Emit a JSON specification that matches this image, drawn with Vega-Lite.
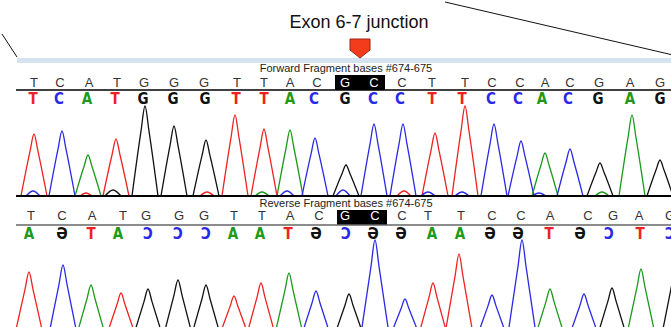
{
  "$schema": "https://vega.github.io/schema/vega-lite/v6.json",
  "padding": 0,
  "spacing": 0,
  "bounds": "flush",
  "background": "white",
  "config": {"view": {"stroke": null}},
  "datasets": {
    "bases": [
      {"q":"T","fx":32,"fc":31,"rx":29,"rc":27,"rg":"A","rb":"A","hl":false},
      {"q":"C","fx":58,"fc":57,"rx":60,"rc":60,"rg":"Ә","rb":"G","hl":false},
      {"q":"A","fx":87,"fc":85,"rx":90,"rc":89,"rg":"T","rb":"T","hl":false},
      {"q":"T","fx":115,"fc":113,"rx":121,"rc":116,"rg":"A","rb":"A","hl":false},
      {"q":"G","fx":142,"fc":141,"rx":144,"rc":146,"rg":"Ɔ","rb":"C","hl":false},
      {"q":"G","fx":172,"fc":171,"rx":177,"rc":176,"rg":"Ɔ","rb":"C","hl":false},
      {"q":"G","fx":202,"fc":203,"rx":202,"rc":204,"rg":"Ɔ","rb":"C","hl":false},
      {"q":"T","fx":235,"fc":234,"rx":232,"rc":231,"rg":"A","rb":"A","hl":false},
      {"q":"T","fx":262,"fc":262,"rx":260,"rc":258,"rg":"A","rb":"A","hl":false},
      {"q":"A","fx":288,"fc":288,"rx":288,"rc":286,"rg":"T","rb":"T","hl":false},
      {"q":"C","fx":315,"fc":312,"rx":317,"rc":314,"rg":"Ә","rb":"G","hl":false},
      {"q":"G","fx":343,"fc":343,"rx":343,"rc":344,"rg":"Ɔ","rb":"C","hl":true},
      {"q":"C","fx":372,"fc":371,"rx":373,"rc":371,"rg":"Ә","rb":"G","hl":true},
      {"q":"C","fx":400,"fc":398,"rx":400,"rc":399,"rg":"Ә","rb":"G","hl":false},
      {"q":"T","fx":430,"fc":430,"rx":426,"rc":430,"rg":"A","rb":"A","hl":false},
      {"q":"T","fx":463,"fc":460,"rx":459,"rc":458,"rg":"A","rb":"A","hl":false},
      {"q":"C","fx":490,"fc":489,"rx":490,"rc":488,"rg":"Ә","rb":"G","hl":false},
      {"q":"C","fx":518,"fc":516,"rx":519,"rc":516,"rg":"Ә","rb":"G","hl":false},
      {"q":"A","fx":543,"fc":540,"rx":548,"rc":547,"rg":"T","rb":"T","hl":false},
      {"q":"C","fx":568,"fc":566,"rx":586,"rc":578,"rg":"Ә","rb":"G","hl":false},
      {"q":"G","fx":597,"fc":596,"rx":611,"rc":607,"rg":"Ɔ","rb":"C","hl":false},
      {"q":"A","fx":628,"fc":628,"rx":637,"rc":638,"rg":"T","rb":"T","hl":false},
      {"q":"G","fx":658,"fc":658,"rx":668,"rc":668,"rg":"Ɔ","rb":"C","hl":false}
    ],
    "peaks": [
      {"s":"F","p":"F1","b":"T","x":19,"y":0},{"s":"F","p":"F1","b":"T","x":28,"y":44.6},{"s":"F","p":"F1","b":"T","x":32,"y":62},{"s":"F","p":"F1","b":"T","x":36,"y":44.6},{"s":"F","p":"F1","b":"T","x":45,"y":0},
      {"s":"F","p":"F2","b":"C","x":47,"y":0},{"s":"F","p":"F2","b":"C","x":56,"y":46.8},{"s":"F","p":"F2","b":"C","x":60,"y":65},{"s":"F","p":"F2","b":"C","x":64,"y":46.8},{"s":"F","p":"F2","b":"C","x":73,"y":0},
      {"s":"F","p":"F3","b":"A","x":73,"y":0},{"s":"F","p":"F3","b":"A","x":82,"y":29.5},{"s":"F","p":"F3","b":"A","x":86,"y":41},{"s":"F","p":"F3","b":"A","x":90,"y":29.5},{"s":"F","p":"F3","b":"A","x":99,"y":0},
      {"s":"F","p":"F4","b":"T","x":101,"y":0},{"s":"F","p":"F4","b":"T","x":110,"y":41},{"s":"F","p":"F4","b":"T","x":114,"y":57},{"s":"F","p":"F4","b":"T","x":118,"y":41},{"s":"F","p":"F4","b":"T","x":127,"y":0},
      {"s":"F","p":"F5","b":"G","x":130,"y":0},{"s":"F","p":"F5","b":"G","x":139,"y":64.8},{"s":"F","p":"F5","b":"G","x":143,"y":90},{"s":"F","p":"F5","b":"G","x":147,"y":64.8},{"s":"F","p":"F5","b":"G","x":156,"y":0},
      {"s":"F","p":"F6","b":"G","x":159,"y":0},{"s":"F","p":"F6","b":"G","x":168,"y":50.4},{"s":"F","p":"F6","b":"G","x":172,"y":70},{"s":"F","p":"F6","b":"G","x":176,"y":50.4},{"s":"F","p":"F6","b":"G","x":185,"y":0},
      {"s":"F","p":"F7","b":"G","x":191,"y":0},{"s":"F","p":"F7","b":"G","x":200,"y":40.3},{"s":"F","p":"F7","b":"G","x":204,"y":56},{"s":"F","p":"F7","b":"G","x":208,"y":40.3},{"s":"F","p":"F7","b":"G","x":217,"y":0},
      {"s":"F","p":"F8","b":"T","x":220,"y":0},{"s":"F","p":"F8","b":"T","x":229,"y":58.3},{"s":"F","p":"F8","b":"T","x":233,"y":81},{"s":"F","p":"F8","b":"T","x":237,"y":58.3},{"s":"F","p":"F8","b":"T","x":246,"y":0},
      {"s":"F","p":"F9","b":"T","x":249,"y":0},{"s":"F","p":"F9","b":"T","x":258,"y":48.2},{"s":"F","p":"F9","b":"T","x":262,"y":67},{"s":"F","p":"F9","b":"T","x":266,"y":48.2},{"s":"F","p":"F9","b":"T","x":275,"y":0},
      {"s":"F","p":"F10","b":"A","x":275,"y":0},{"s":"F","p":"F10","b":"A","x":284,"y":47.5},{"s":"F","p":"F10","b":"A","x":288,"y":66},{"s":"F","p":"F10","b":"A","x":292,"y":47.5},{"s":"F","p":"F10","b":"A","x":301,"y":0},
      {"s":"F","p":"F11","b":"C","x":300,"y":0},{"s":"F","p":"F11","b":"C","x":309,"y":41.8},{"s":"F","p":"F11","b":"C","x":313,"y":58},{"s":"F","p":"F11","b":"C","x":317,"y":41.8},{"s":"F","p":"F11","b":"C","x":326,"y":0},
      {"s":"F","p":"F12","b":"G","x":331,"y":0},{"s":"F","p":"F12","b":"G","x":340,"y":22.3},{"s":"F","p":"F12","b":"G","x":344,"y":31},{"s":"F","p":"F12","b":"G","x":348,"y":22.3},{"s":"F","p":"F12","b":"G","x":357,"y":0},
      {"s":"F","p":"F13","b":"C","x":359,"y":0},{"s":"F","p":"F13","b":"C","x":368,"y":51.8},{"s":"F","p":"F13","b":"C","x":372,"y":72},{"s":"F","p":"F13","b":"C","x":376,"y":51.8},{"s":"F","p":"F13","b":"C","x":385,"y":0},
      {"s":"F","p":"F14","b":"C","x":388,"y":0},{"s":"F","p":"F14","b":"C","x":397,"y":51.8},{"s":"F","p":"F14","b":"C","x":401,"y":72},{"s":"F","p":"F14","b":"C","x":405,"y":51.8},{"s":"F","p":"F14","b":"C","x":414,"y":0},
      {"s":"F","p":"F15","b":"T","x":420,"y":0},{"s":"F","p":"F15","b":"T","x":429,"y":45.4},{"s":"F","p":"F15","b":"T","x":433,"y":63},{"s":"F","p":"F15","b":"T","x":437,"y":45.4},{"s":"F","p":"F15","b":"T","x":446,"y":0},
      {"s":"F","p":"F16","b":"T","x":450,"y":0},{"s":"F","p":"F16","b":"T","x":459,"y":64.8},{"s":"F","p":"F16","b":"T","x":463,"y":90},{"s":"F","p":"F16","b":"T","x":467,"y":64.8},{"s":"F","p":"F16","b":"T","x":476,"y":0},
      {"s":"F","p":"F17","b":"C","x":479,"y":0},{"s":"F","p":"F17","b":"C","x":488,"y":51.8},{"s":"F","p":"F17","b":"C","x":492,"y":72},{"s":"F","p":"F17","b":"C","x":496,"y":51.8},{"s":"F","p":"F17","b":"C","x":505,"y":0},
      {"s":"F","p":"F18","b":"C","x":506,"y":0},{"s":"F","p":"F18","b":"C","x":515,"y":39.6},{"s":"F","p":"F18","b":"C","x":519,"y":55},{"s":"F","p":"F18","b":"C","x":523,"y":39.6},{"s":"F","p":"F18","b":"C","x":532,"y":0},
      {"s":"F","p":"F19","b":"A","x":530,"y":0},{"s":"F","p":"F19","b":"A","x":539,"y":31},{"s":"F","p":"F19","b":"A","x":543,"y":43},{"s":"F","p":"F19","b":"A","x":547,"y":31},{"s":"F","p":"F19","b":"A","x":556,"y":0},
      {"s":"F","p":"F20","b":"C","x":555,"y":0},{"s":"F","p":"F20","b":"C","x":564,"y":33.8},{"s":"F","p":"F20","b":"C","x":568,"y":47},{"s":"F","p":"F20","b":"C","x":572,"y":33.8},{"s":"F","p":"F20","b":"C","x":581,"y":0},
      {"s":"F","p":"F21","b":"G","x":585,"y":0},{"s":"F","p":"F21","b":"G","x":594,"y":23.8},{"s":"F","p":"F21","b":"G","x":598,"y":33},{"s":"F","p":"F21","b":"G","x":602,"y":23.8},{"s":"F","p":"F21","b":"G","x":611,"y":0},
      {"s":"F","p":"F22","b":"A","x":617,"y":0},{"s":"F","p":"F22","b":"A","x":626,"y":58.3},{"s":"F","p":"F22","b":"A","x":630,"y":81},{"s":"F","p":"F22","b":"A","x":634,"y":58.3},{"s":"F","p":"F22","b":"A","x":643,"y":0},
      {"s":"F","p":"F23","b":"G","x":645,"y":0},{"s":"F","p":"F23","b":"G","x":654,"y":25.9},{"s":"F","p":"F23","b":"G","x":658,"y":36},{"s":"F","p":"F23","b":"G","x":662,"y":25.9},{"s":"F","p":"F23","b":"G","x":671,"y":0},
      {"s":"F","p":"b1","b":"C","x":24,"y":0},{"s":"F","p":"b1","b":"C","x":31,"y":5},{"s":"F","p":"b1","b":"C","x":38,"y":0},
      {"s":"F","p":"b2","b":"G","x":103,"y":0},{"s":"F","p":"b2","b":"G","x":111,"y":6},{"s":"F","p":"b2","b":"G","x":119,"y":0},
      {"s":"F","p":"b3","b":"T","x":198,"y":0},{"s":"F","p":"b3","b":"T","x":205,"y":4},{"s":"F","p":"b3","b":"T","x":212,"y":0},
      {"s":"F","p":"b4","b":"A","x":253,"y":0},{"s":"F","p":"b4","b":"A","x":260,"y":4},{"s":"F","p":"b4","b":"A","x":267,"y":0},
      {"s":"F","p":"b5","b":"C","x":278,"y":0},{"s":"F","p":"b5","b":"C","x":285,"y":5},{"s":"F","p":"b5","b":"C","x":292,"y":0},
      {"s":"F","p":"b6","b":"C","x":334,"y":0},{"s":"F","p":"b6","b":"C","x":341,"y":6},{"s":"F","p":"b6","b":"C","x":348,"y":0},
      {"s":"F","p":"b7","b":"T","x":395,"y":0},{"s":"F","p":"b7","b":"T","x":402,"y":5},{"s":"F","p":"b7","b":"T","x":409,"y":0},
      {"s":"F","p":"b8","b":"C","x":419,"y":0},{"s":"F","p":"b8","b":"C","x":426,"y":4},{"s":"F","p":"b8","b":"C","x":433,"y":0},
      {"s":"F","p":"b9","b":"C","x":453,"y":0},{"s":"F","p":"b9","b":"C","x":460,"y":4},{"s":"F","p":"b9","b":"C","x":467,"y":0},
      {"s":"F","p":"b10","b":"C","x":530,"y":0},{"s":"F","p":"b10","b":"C","x":537,"y":3},{"s":"F","p":"b10","b":"C","x":544,"y":0},
      {"s":"F","p":"b11","b":"A","x":593,"y":0},{"s":"F","p":"b11","b":"A","x":600,"y":4},{"s":"F","p":"b11","b":"A","x":607,"y":0},
      {"s":"F","p":"b12","b":"T","x":78,"y":0},{"s":"F","p":"b12","b":"T","x":84,"y":3},{"s":"F","p":"b12","b":"T","x":90,"y":0},
      {"s":"R","p":"R1","b":"T","x":13,"y":0},{"s":"R","p":"R1","b":"T","x":23,"y":44.6},{"s":"R","p":"R1","b":"T","x":27,"y":62},{"s":"R","p":"R1","b":"T","x":31,"y":44.6},{"s":"R","p":"R1","b":"T","x":41,"y":0},
      {"s":"R","p":"R2","b":"C","x":47,"y":0},{"s":"R","p":"R2","b":"C","x":57,"y":49.7},{"s":"R","p":"R2","b":"C","x":61,"y":69},{"s":"R","p":"R2","b":"C","x":65,"y":49.7},{"s":"R","p":"R2","b":"C","x":75,"y":0},
      {"s":"R","p":"R3","b":"A","x":75,"y":0},{"s":"R","p":"R3","b":"A","x":85,"y":35.3},{"s":"R","p":"R3","b":"A","x":89,"y":49},{"s":"R","p":"R3","b":"A","x":93,"y":35.3},{"s":"R","p":"R3","b":"A","x":103,"y":0},
      {"s":"R","p":"R4","b":"T","x":105,"y":0},{"s":"R","p":"R4","b":"T","x":115,"y":29.5},{"s":"R","p":"R4","b":"T","x":119,"y":41},{"s":"R","p":"R4","b":"T","x":123,"y":29.5},{"s":"R","p":"R4","b":"T","x":133,"y":0},
      {"s":"R","p":"R5","b":"G","x":132,"y":0},{"s":"R","p":"R5","b":"G","x":142,"y":32.4},{"s":"R","p":"R5","b":"G","x":146,"y":45},{"s":"R","p":"R5","b":"G","x":150,"y":32.4},{"s":"R","p":"R5","b":"G","x":160,"y":0},
      {"s":"R","p":"R6","b":"G","x":162,"y":0},{"s":"R","p":"R6","b":"G","x":172,"y":38.9},{"s":"R","p":"R6","b":"G","x":176,"y":54},{"s":"R","p":"R6","b":"G","x":180,"y":38.9},{"s":"R","p":"R6","b":"G","x":190,"y":0},
      {"s":"R","p":"R7","b":"G","x":190,"y":0},{"s":"R","p":"R7","b":"G","x":200,"y":35.3},{"s":"R","p":"R7","b":"G","x":204,"y":49},{"s":"R","p":"R7","b":"G","x":208,"y":35.3},{"s":"R","p":"R7","b":"G","x":218,"y":0},
      {"s":"R","p":"R8","b":"T","x":218,"y":0},{"s":"R","p":"R8","b":"T","x":228,"y":27.4},{"s":"R","p":"R8","b":"T","x":232,"y":38},{"s":"R","p":"R8","b":"T","x":236,"y":27.4},{"s":"R","p":"R8","b":"T","x":246,"y":0},
      {"s":"R","p":"R9","b":"T","x":245,"y":0},{"s":"R","p":"R9","b":"T","x":255,"y":36.7},{"s":"R","p":"R9","b":"T","x":259,"y":51},{"s":"R","p":"R9","b":"T","x":263,"y":36.7},{"s":"R","p":"R9","b":"T","x":273,"y":0},
      {"s":"R","p":"R10","b":"A","x":273,"y":0},{"s":"R","p":"R10","b":"A","x":283,"y":43.9},{"s":"R","p":"R10","b":"A","x":287,"y":61},{"s":"R","p":"R10","b":"A","x":291,"y":43.9},{"s":"R","p":"R10","b":"A","x":301,"y":0},
      {"s":"R","p":"R11","b":"C","x":300,"y":0},{"s":"R","p":"R11","b":"C","x":310,"y":31},{"s":"R","p":"R11","b":"C","x":314,"y":43},{"s":"R","p":"R11","b":"C","x":318,"y":31},{"s":"R","p":"R11","b":"C","x":328,"y":0},
      {"s":"R","p":"R12","b":"G","x":333,"y":0},{"s":"R","p":"R12","b":"G","x":343,"y":28.8},{"s":"R","p":"R12","b":"G","x":347,"y":40},{"s":"R","p":"R12","b":"G","x":351,"y":28.8},{"s":"R","p":"R12","b":"G","x":361,"y":0},
      {"s":"R","p":"R13","b":"C","x":359,"y":0},{"s":"R","p":"R13","b":"C","x":369,"y":67.7},{"s":"R","p":"R13","b":"C","x":373,"y":94},{"s":"R","p":"R13","b":"C","x":377,"y":67.7},{"s":"R","p":"R13","b":"C","x":387,"y":0},
      {"s":"R","p":"R14","b":"C","x":389,"y":0},{"s":"R","p":"R14","b":"C","x":399,"y":25.2},{"s":"R","p":"R14","b":"C","x":403,"y":35},{"s":"R","p":"R14","b":"C","x":407,"y":25.2},{"s":"R","p":"R14","b":"C","x":417,"y":0},
      {"s":"R","p":"R15","b":"T","x":417,"y":0},{"s":"R","p":"R15","b":"T","x":427,"y":36.7},{"s":"R","p":"R15","b":"T","x":431,"y":51},{"s":"R","p":"R15","b":"T","x":435,"y":36.7},{"s":"R","p":"R15","b":"T","x":445,"y":0},
      {"s":"R","p":"R16","b":"T","x":443,"y":0},{"s":"R","p":"R16","b":"T","x":453,"y":57.6},{"s":"R","p":"R16","b":"T","x":457,"y":80},{"s":"R","p":"R16","b":"T","x":461,"y":57.6},{"s":"R","p":"R16","b":"T","x":471,"y":0},
      {"s":"R","p":"R17","b":"C","x":476,"y":0},{"s":"R","p":"R17","b":"C","x":486,"y":28.1},{"s":"R","p":"R17","b":"C","x":490,"y":39},{"s":"R","p":"R17","b":"C","x":494,"y":28.1},{"s":"R","p":"R17","b":"C","x":504,"y":0},
      {"s":"R","p":"R18","b":"C","x":506,"y":0},{"s":"R","p":"R18","b":"C","x":516,"y":67.7},{"s":"R","p":"R18","b":"C","x":520,"y":94},{"s":"R","p":"R18","b":"C","x":524,"y":67.7},{"s":"R","p":"R18","b":"C","x":534,"y":0},
      {"s":"R","p":"R19","b":"A","x":534,"y":0},{"s":"R","p":"R19","b":"A","x":544,"y":32.4},{"s":"R","p":"R19","b":"A","x":548,"y":45},{"s":"R","p":"R19","b":"A","x":552,"y":32.4},{"s":"R","p":"R19","b":"A","x":562,"y":0},
      {"s":"R","p":"R20","b":"C","x":568,"y":0},{"s":"R","p":"R20","b":"C","x":578,"y":28.8},{"s":"R","p":"R20","b":"C","x":582,"y":40},{"s":"R","p":"R20","b":"C","x":586,"y":28.8},{"s":"R","p":"R20","b":"C","x":596,"y":0},
      {"s":"R","p":"R21","b":"G","x":596,"y":0},{"s":"R","p":"R21","b":"G","x":606,"y":33.1},{"s":"R","p":"R21","b":"G","x":610,"y":46},{"s":"R","p":"R21","b":"G","x":614,"y":33.1},{"s":"R","p":"R21","b":"G","x":624,"y":0},
      {"s":"R","p":"R22","b":"A","x":625,"y":0},{"s":"R","p":"R22","b":"A","x":635,"y":46.8},{"s":"R","p":"R22","b":"A","x":639,"y":65},{"s":"R","p":"R22","b":"A","x":643,"y":46.8},{"s":"R","p":"R22","b":"A","x":653,"y":0},
      {"s":"R","p":"R23","b":"G","x":660,"y":0},{"s":"R","p":"R23","b":"G","x":670,"y":50.4},{"s":"R","p":"R23","b":"G","x":674,"y":70},{"s":"R","p":"R23","b":"G","x":678,"y":50.4},{"s":"R","p":"R23","b":"G","x":688,"y":0}
    ]
  },
  "vconcat": [
    {
      "width": 671,
      "height": 62,
      "layer": [
        {
          "data": {"values": [
            {"g":"L","x":0,"y":30},{"g":"L","x":15,"y":7},
            {"g":"R","x":443,"y":62},{"g":"R","x":671,"y":9}
          ]},
          "mark": {"type": "line", "color": "#111", "strokeWidth": 1},
          "encoding": {
            "x": {"field": "x", "type": "quantitative", "scale": {"domain": [0, 671], "nice": false, "zero": false}, "axis": null},
            "y": {"field": "y", "type": "quantitative", "scale": {"domain": [0, 62], "nice": false, "zero": false}, "axis": null},
            "detail": {"field": "g"}
          }
        },
        {
          "data": {"values": [{"x": 15, "x2": 671, "y": 1, "y2": 6}]},
          "mark": {"type": "rect", "color": "#d5e2ef"},
          "encoding": {
            "x": {"field": "x", "type": "quantitative"},
            "x2": {"field": "x2"},
            "y": {"field": "y", "type": "quantitative"},
            "y2": {"field": "y2"}
          }
        },
        {
          "data": {"values": [{"t": "Exon 6-7 junction"}]},
          "mark": {"type": "text", "font": "Liberation Sans", "fontSize": 18, "color": "#111", "align": "center", "baseline": "middle"},
          "encoding": {
            "x": {"datum": 357, "type": "quantitative"},
            "y": {"datum": 41, "type": "quantitative"},
            "text": {"field": "t"}
          }
        },
        {
          "data": {"values": [{"m": "junction"}]},
          "mark": {"type": "point", "shape": "M-1,-0.95L1,-0.95L1,0.15L0,0.95L-1,0.15Z", "size": 400, "filled": true, "fill": "#f23c1c", "stroke": "#9a2410", "strokeWidth": 1, "opacity": 1},
          "encoding": {
            "x": {"datum": 358, "type": "quantitative"},
            "y": {"datum": 15.5, "type": "quantitative"}
          }
        }
      ]
    },
    {
      "width": 671,
      "height": 136,
      "layer": [
        {
          "data": {"values": [{"t": "Forward Fragment bases #674-675"}]},
          "mark": {"type": "text", "font": "Liberation Sans", "fontSize": 11, "color": "#222", "align": "center", "baseline": "middle"},
          "encoding": {
            "x": {"datum": 344, "type": "quantitative", "scale": {"domain": [0, 671], "nice": false, "zero": false}, "axis": null},
            "y": {"datum": 127, "type": "quantitative", "scale": {"domain": [-4, 132], "nice": false, "zero": false}, "axis": null},
            "text": {"field": "t"}
          }
        },
        {
          "data": {"values": [{"x": 333, "x2": 383, "y": 106, "y2": 121}]},
          "mark": {"type": "rect", "color": "#000"},
          "encoding": {
            "x": {"field": "x", "type": "quantitative"},
            "x2": {"field": "x2"},
            "y": {"field": "y", "type": "quantitative"},
            "y2": {"field": "y2"}
          }
        },
        {
          "data": {"name": "bases"},
          "mark": {"type": "text", "font": "Liberation Sans", "fontSize": 13, "align": "center", "baseline": "middle"},
          "encoding": {
            "x": {"field": "fx", "type": "quantitative"},
            "y": {"datum": 113.5, "type": "quantitative"},
            "text": {"field": "q"},
            "color": {"condition": {"test": "datum.hl", "value": "#ffffff"}, "value": "#333333"}
          }
        },
        {
          "data": {"values": [{"x": 14, "y": 106}, {"x": 671, "y": 106}]},
          "mark": {"type": "line", "color": "#000", "strokeWidth": 1.6},
          "encoding": {
            "x": {"field": "x", "type": "quantitative"},
            "y": {"field": "y", "type": "quantitative"}
          }
        },
        {
          "data": {"name": "bases"},
          "mark": {"type": "text", "font": "Liberation Sans Narrow, DejaVu Sans Condensed, DejaVu Sans", "fontWeight": "bold", "fontSize": 15, "align": "center", "baseline": "middle"},
          "encoding": {
            "x": {"field": "fc", "type": "quantitative"},
            "y": {"datum": 97, "type": "quantitative"},
            "text": {"field": "q"},
            "color": {"field": "q", "type": "nominal", "scale": {"domain": ["A", "C", "G", "T"], "range": ["#1c9a1c", "#2a2ae6", "#111111", "#ee2222"]}, "legend": null}
          }
        },
        {
          "data": {"name": "peaks"},
          "transform": [{"filter": "datum.s == 'F'"}],
          "mark": {"type": "line", "interpolate": "monotone", "strokeWidth": 1.3},
          "encoding": {
            "x": {"field": "x", "type": "quantitative"},
            "y": {"field": "y", "type": "quantitative"},
            "detail": {"field": "p"},
            "color": {"field": "b", "type": "nominal", "legend": null}
          }
        },
        {
          "data": {"values": [{"x": 14, "y": 0}, {"x": 671, "y": 0}]},
          "mark": {"type": "line", "color": "#000", "strokeWidth": 2},
          "encoding": {
            "x": {"field": "x", "type": "quantitative"},
            "y": {"field": "y", "type": "quantitative"}
          }
        }
      ]
    },
    {
      "width": 671,
      "height": 129,
      "layer": [
        {
          "data": {"values": [{"t": "Reverse Fragment bases #674-675"}]},
          "mark": {"type": "text", "font": "Liberation Sans", "fontSize": 11, "color": "#222", "align": "center", "baseline": "middle"},
          "encoding": {
            "x": {"datum": 344, "type": "quantitative", "scale": {"domain": [0, 671], "nice": false, "zero": false}, "axis": null},
            "y": {"datum": 130.5, "type": "quantitative", "scale": {"domain": [5, 134], "nice": false, "zero": false}, "axis": null},
            "text": {"field": "t"}
          }
        },
        {
          "data": {"values": [{"x": 335, "x2": 385, "y": 109, "y2": 124}]},
          "mark": {"type": "rect", "color": "#000"},
          "encoding": {
            "x": {"field": "x", "type": "quantitative"},
            "x2": {"field": "x2"},
            "y": {"field": "y", "type": "quantitative"},
            "y2": {"field": "y2"}
          }
        },
        {
          "data": {"name": "bases"},
          "mark": {"type": "text", "font": "Liberation Sans", "fontSize": 13, "align": "center", "baseline": "middle"},
          "encoding": {
            "x": {"field": "rx", "type": "quantitative"},
            "y": {"datum": 118, "type": "quantitative"},
            "text": {"field": "q"},
            "color": {"condition": {"test": "datum.hl", "value": "#ffffff"}, "value": "#333333"}
          }
        },
        {
          "data": {"values": [{"x": 14, "y": 109}, {"x": 671, "y": 109}]},
          "mark": {"type": "line", "color": "#666", "strokeWidth": 1.5},
          "encoding": {
            "x": {"field": "x", "type": "quantitative"},
            "y": {"field": "y", "type": "quantitative"}
          }
        },
        {
          "data": {"name": "bases"},
          "mark": {"type": "text", "font": "Liberation Sans Narrow, DejaVu Sans Condensed, DejaVu Sans", "fontWeight": "bold", "fontSize": 15, "align": "center", "baseline": "middle"},
          "encoding": {
            "x": {"field": "rc", "type": "quantitative"},
            "y": {"datum": 100.5, "type": "quantitative"},
            "text": {"field": "rg"},
            "color": {"field": "rb", "type": "nominal", "legend": null}
          }
        },
        {
          "data": {"name": "peaks"},
          "transform": [{"filter": "datum.s == 'R'"}],
          "mark": {"type": "line", "interpolate": "monotone", "strokeWidth": 1.3, "clip": true},
          "encoding": {
            "x": {"field": "x", "type": "quantitative"},
            "y": {"field": "y", "type": "quantitative"},
            "detail": {"field": "p"},
            "color": {"field": "b", "type": "nominal", "legend": null}
          }
        }
      ]
    }
  ]
}
